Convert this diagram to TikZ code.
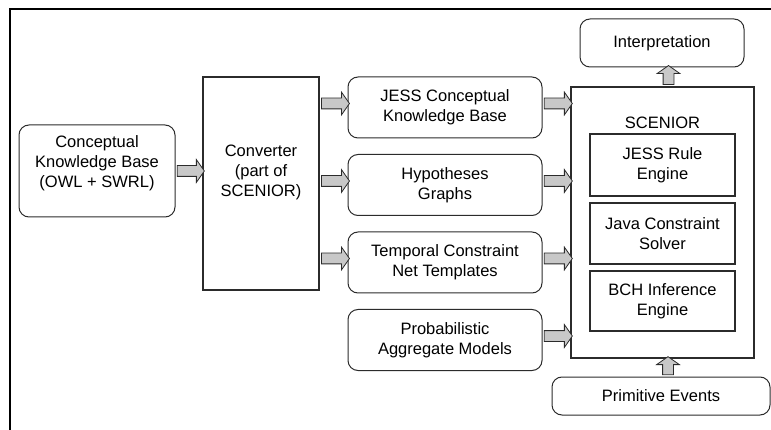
\documentclass[tikz,border=0pt]{standalone}
\usepackage{fontspec}
\setmainfont{Liberation Sans}
\usepackage{tikz}
\usetikzlibrary{shapes.arrows}
\definecolor{colLine}{HTML}{2B2B2B}
\definecolor{colArr}{HTML}{C8C8C8}

\begin{document}
\begin{tikzpicture}[x=1pt, y=-1pt,
  rbox/.style={draw=colLine, line width=1pt, rounded corners=10pt, align=center,
               font=\fontsize{16.5}{20}\selectfont, inner sep=0pt},
  sbox/.style={draw=colLine, line width=1.2pt, align=center,
               font=\fontsize{16.5}{20}\selectfont, inner sep=0pt},
  txt/.style={align=center, font=\fontsize{16.5}{20}\selectfont, inner sep=0pt},
  barr/.style={single arrow, draw=colLine, fill=colArr, line width=0.8pt,
               inner xsep=0pt, inner ysep=5pt, single arrow head extend=6pt,
               single arrow tip angle=110, minimum height=28pt},
  frame/.style={line width=1.6pt, black}
]
  \useasboundingbox (0,0) rectangle (771,430);
  \draw[frame] (10,430) -- (10,9) -- (771,9);

  \node[rbox, minimum width=156pt, minimum height=92pt] (ckb) at (97,171) {};
  \node[txt] (ckbt) at ([yshift=8pt]ckb.center) {Conceptual\\Knowledge Base\\(OWL + SWRL)};
  \node[sbox, minimum width=116pt, minimum height=213pt] (conv) at (261,183.5) {};
  \node[txt] (convt) at ([yshift=11pt]conv.center) {Converter\\(part of\\SCENIOR)};

  \node[rbox, minimum width=194pt, minimum height=61pt] (jkb) at (445,107.5) {JESS Conceptual\\Knowledge Base};
  \node[rbox, minimum width=194pt, minimum height=61pt] (hyp) at (445,185) {Hypotheses\\Graphs};
  \node[rbox, minimum width=194pt, minimum height=61pt] (tcn) at (445,262.5) {Temporal Constraint\\Net Templates};
  \node[rbox, minimum width=194pt, minimum height=61pt] (pam) at (445,340) {Probabilistic\\Aggregate Models};

  \node[sbox, minimum width=183pt, minimum height=271pt] (scen) at (662.5,222.5) {};
  \node[txt] (scent) at (662.5,123) {SCENIOR};
  \node[sbox, minimum width=145pt, minimum height=62pt] (jre) at (662.5,165) {JESS Rule\\Engine};
  \node[sbox, minimum width=145pt, minimum height=61pt] (jcs) at (662.5,233.5) {Java Constraint\\Solver};
  \node[sbox, minimum width=145pt, minimum height=60pt] (bch) at (662.5,301) {BCH Inference\\Engine};

  \node[rbox, minimum width=164pt, minimum height=48pt] (interp) at (662,43) {Interpretation};
  \node[rbox, minimum width=218pt, minimum height=38pt] (prim) at (661,396) {Primitive Events};

  \path (ckb.east) -- (ckb.east -| conv.west) node[midway, barr, minimum height=27pt] {};
  \foreach \n in {jkb,hyp,tcn} {
    \path (conv.east |- \n.west) -- (\n.west) node[midway, yshift=4pt, barr] {};
  }
  \foreach \n in {jkb,hyp,tcn,pam} {
    \path (\n.east) -- (\n.east -| scen.west) node[midway, yshift=4pt, barr] {};
  }
  \path ([xshift=6pt]scen.north) -- ([xshift=6pt]scen.north |- interp.south)
    node[midway, barr, rotate=90, minimum height=19pt] {};
  \path ([xshift=7pt]prim.north) -- ([xshift=7pt]prim.north |- scen.south)
    node[midway, barr, rotate=90, minimum height=18pt] {};
\end{tikzpicture}
\end{document}
